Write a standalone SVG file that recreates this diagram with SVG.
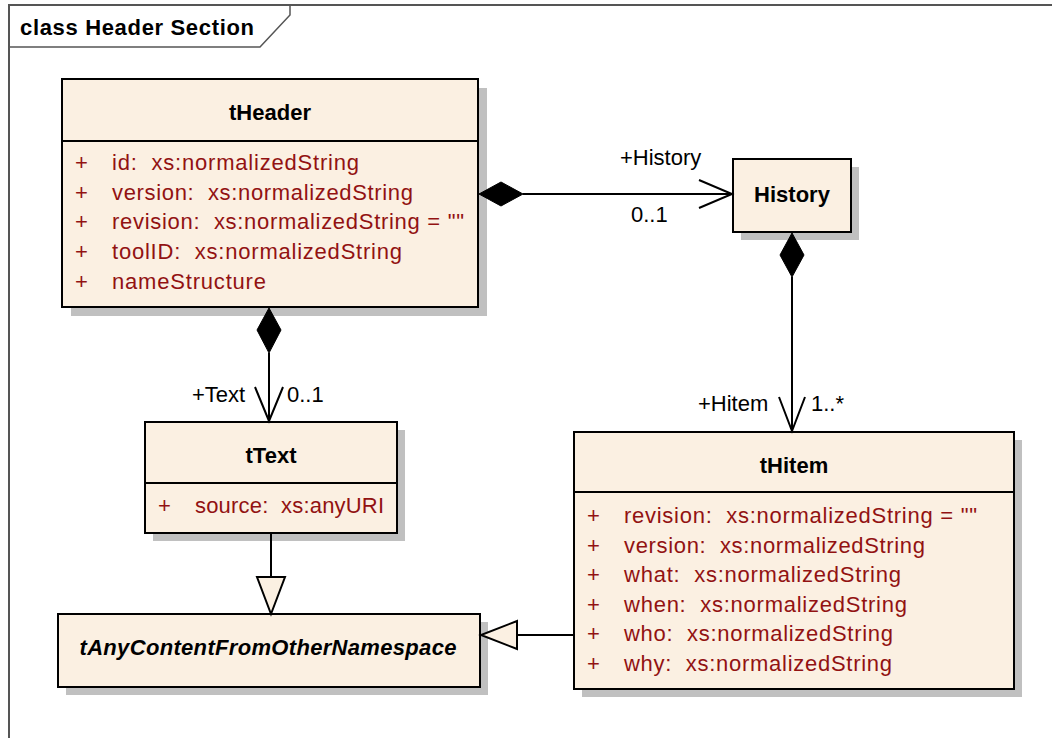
<svg xmlns="http://www.w3.org/2000/svg" width="1052" height="738" viewBox="0 0 1052 738">
<style>
text{font-family:"Liberation Sans",Arial,sans-serif;font-size:22px}
.t{font-weight:bold;text-anchor:middle;fill:#000}
.a{fill:#921212;white-space:pre}
.l{fill:#000}
.box{fill:#FBF0E2;stroke:#000;stroke-width:2}
.sh{fill:#C0C0C0}
.sep{stroke:#000;stroke-width:2}
.c{stroke:#000;stroke-width:2;fill:none}
.dia{fill:#000;stroke:#000;stroke-width:1}
.tri{fill:#FBF0E2;stroke:#000;stroke-width:2}
</style>
<rect x="0" y="0" width="1052" height="738" fill="#fff"/>
<g id="frame">
<path d="M9,738 V5 H1052" fill="none" stroke="#555" stroke-width="2"/>
<polyline points="9,47 260,47 290,15 290,5" fill="none" stroke="#555" stroke-width="1.5"/>
<text x="20" y="35" font-weight="bold" textLength="234" lengthAdjust="spacing">class Header Section</text>
</g>
<g id="tHeader">
<rect class="sh" x="71" y="88" width="416" height="228"/>
<rect class="box" x="62" y="79" width="416" height="228"/>
<line class="sep" x1="62" y1="141" x2="478" y2="141"/>
<text class="t" x="270" y="120">tHeader</text>
<text class="a" x="75" y="170">+</text><text class="a" x="112" y="170" textLength="247" lengthAdjust="spacing" xml:space="preserve">id:  xs:normalizedString</text>
<text class="a" x="75" y="200">+</text><text class="a" x="112" y="200" textLength="301" lengthAdjust="spacing" xml:space="preserve">version:  xs:normalizedString</text>
<text class="a" x="75" y="229">+</text><text class="a" x="112" y="229" textLength="352" lengthAdjust="spacing" xml:space="preserve">revision:  xs:normalizedString = ""</text>
<text class="a" x="75" y="259">+</text><text class="a" x="112" y="259" textLength="290" lengthAdjust="spacing" xml:space="preserve">toolID:  xs:normalizedString</text>
<text class="a" x="75" y="289">+</text><text class="a" x="112" y="289" textLength="154" lengthAdjust="spacing">nameStructure</text>
</g>
<g id="History">
<rect class="sh" x="741" y="167" width="118" height="73"/>
<rect class="box" x="733" y="159" width="118" height="73"/>
<text class="t" x="792" y="202">History</text>
</g>
<g id="tText">
<rect class="sh" x="153" y="430" width="252" height="111"/>
<rect class="box" x="145" y="422" width="252" height="111"/>
<line class="sep" x1="145" y1="483" x2="397" y2="483"/>
<text class="t" x="271" y="463">tText</text>
<text class="a" x="158" y="513">+</text><text class="a" x="195" y="513" textLength="189" lengthAdjust="spacing" xml:space="preserve">source:  xs:anyURI</text>
</g>
<g id="tHitem">
<rect class="sh" x="582" y="440" width="440" height="257"/>
<rect class="box" x="574" y="432" width="440" height="257"/>
<line class="sep" x1="574" y1="492" x2="1014" y2="492"/>
<text class="t" x="794" y="473">tHitem</text>
<text class="a" x="587" y="523">+</text><text class="a" x="624" y="523" textLength="353" lengthAdjust="spacing" xml:space="preserve">revision:  xs:normalizedString = ""</text>
<text class="a" x="587" y="553">+</text><text class="a" x="624" y="553" textLength="301" lengthAdjust="spacing" xml:space="preserve">version:  xs:normalizedString</text>
<text class="a" x="587" y="582">+</text><text class="a" x="624" y="582" textLength="277" lengthAdjust="spacing" xml:space="preserve">what:  xs:normalizedString</text>
<text class="a" x="587" y="612">+</text><text class="a" x="624" y="612" textLength="283" lengthAdjust="spacing" xml:space="preserve">when:  xs:normalizedString</text>
<text class="a" x="587" y="641">+</text><text class="a" x="624" y="641" textLength="269" lengthAdjust="spacing" xml:space="preserve">who:  xs:normalizedString</text>
<text class="a" x="587" y="671">+</text><text class="a" x="624" y="671" textLength="268" lengthAdjust="spacing" xml:space="preserve">why:  xs:normalizedString</text>
</g>
<g id="tAnyContentFromOtherNamespace">
<rect class="sh" x="66" y="622" width="422" height="73"/>
<rect class="box" x="58" y="614" width="422" height="73"/>
<text class="t" x="268" y="655" font-style="italic" textLength="377" lengthAdjust="spacing">tAnyContentFromOtherNamespace</text>
</g>
<g id="connectors">
<line class="c" x1="523" y1="194" x2="732" y2="194"/>
<polygon class="dia" points="479,194 501,182 523,194 501,206"/>
<polyline class="c" points="699,180 732,194 699,208"/>
<text class="l" x="620" y="165">+History</text>
<text class="l" x="631" y="222">0..1</text>
<line class="c" x1="792" y1="277" x2="792" y2="431"/>
<polygon class="dia" points="792,233 804,255 792,277 780,255"/>
<polyline class="c" points="779,397 792,431 805,397"/>
<text class="l" x="698" y="411">+Hitem</text>
<text class="l" x="811" y="411">1..*</text>
<line class="c" x1="269" y1="353" x2="269" y2="421"/>
<polygon class="dia" points="269,308 281,330 269,353 257,330"/>
<polyline class="c" points="255,387 269,421 283,387"/>
<text class="l" x="192" y="402">+Text</text>
<text class="l" x="287" y="402">0..1</text>
<line class="c" x1="271" y1="533" x2="271" y2="577"/>
<polygon class="tri" points="257,577 285,577 271,614"/>
<line class="c" x1="517" y1="635" x2="574" y2="635"/>
<polygon class="tri" points="517,621 517,649 481,635"/>
</g>
</svg>
